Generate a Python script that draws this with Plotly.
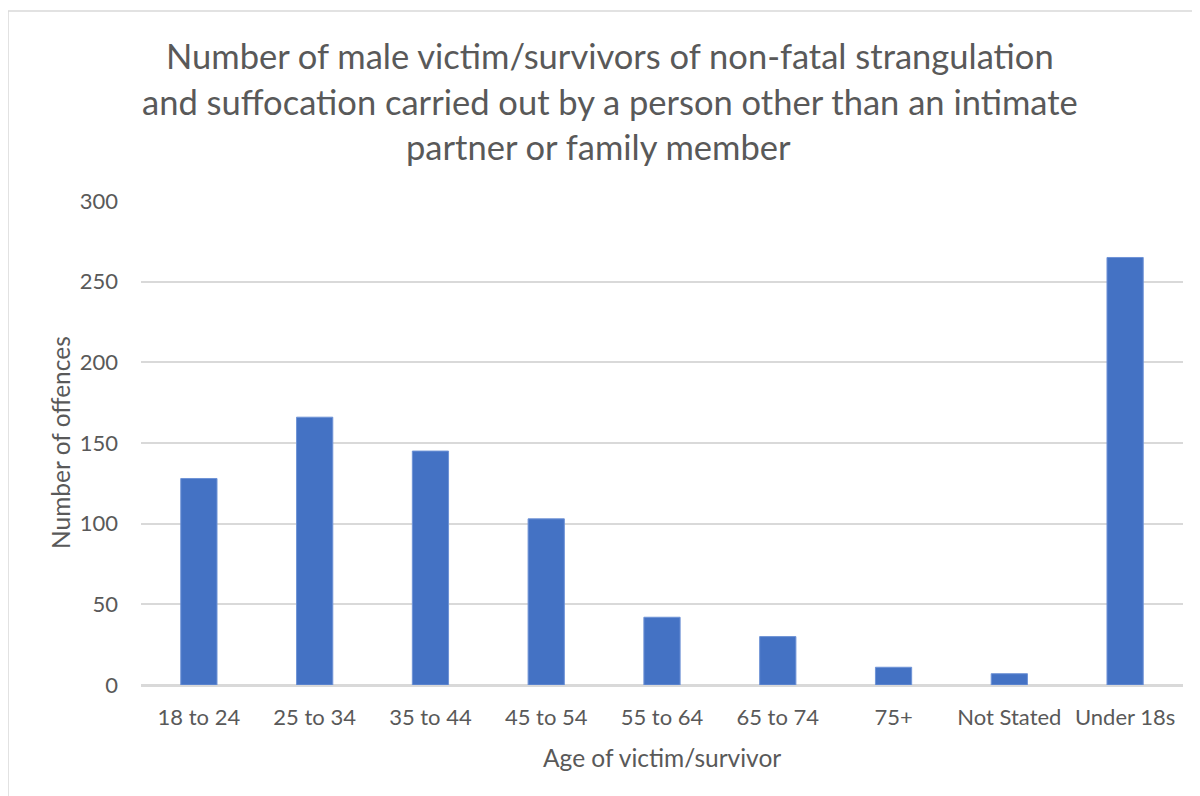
import plotly.graph_objects as go

categories = ["18 to 24", "25 to 34", "35 to 44", "45 to 54", "55 to 64",
              "65 to 74", "75+", "Not Stated", "Under 18s"]
offences = [128, 166, 145, 103, 42, 30, 11, 7, 265]
y_ticks = [0, 50, 100, 150, 200, 250, 300]

title_lines = [
    "Number of male victim/survivors of non-fatal strangulation",
    "and suffocation carried out by a person other than an intimate",
    "partner or family member",
]
x_title = "Age of victim/survivor"
y_title = "Number of offences"

# page body has an 8px margin; work in reference-pixel coordinates and shift
OFF = 8
W, H = 1200 - OFF, 796 - OFF
PL, PT, PR, PB = 141, 201, 1183, 685   # plot area in reference pixels
L, T = PL - OFF, PT - OFF
R, B = W - (PR - OFF), H - (PB - OFF)
pw, ph = W - L - R, H - T - B

def px(x):
    return (x - PL) / pw

def py(y):
    return (PB - y) / ph

TXT = "#595959"
GRID = "#D9D9D9"
FONT = "Lato"

fig = go.Figure(go.Bar(
    x=categories, y=offences,
    marker=dict(color="#4472C4", line=dict(color="#6F93D6", width=1)),
    hoverinfo="x+y",
))

annotations = []
for txt, cx, cy in zip(title_lines, [610, 610, 598], [56, 101, 146]):
    annotations.append(dict(text=txt, x=px(cx), y=py(cy), xref="paper", yref="paper",
                            xanchor="center", yanchor="middle", showarrow=False,
                            font=dict(family=FONT, size=34.5, color=TXT)))
annotations.append(dict(text=x_title, x=px(662), y=py(757), xref="paper", yref="paper",
                        xanchor="center", yanchor="middle", showarrow=False,
                        font=dict(family=FONT, size=24.5, color=TXT)))
annotations.append(dict(text=y_title, x=px(60), y=py(443), xref="paper", yref="paper",
                        xanchor="center", yanchor="middle", showarrow=False, textangle=-90,
                        font=dict(family=FONT, size=24.5, color=TXT)))

shapes = [
    dict(type="line", xref="paper", yref="paper", x0=px(8), x1=px(8), y0=py(11), y1=py(800),
         line=dict(color=GRID, width=1.5)),
    dict(type="line", xref="paper", yref="paper", x0=px(8), x1=px(1205), y0=py(11), y1=py(11),
         line=dict(color=GRID, width=1.5)),
]

fig.update_layout(
    width=W, height=H,
    margin=dict(l=L, r=R, t=T, b=B, pad=0),
    paper_bgcolor="white", plot_bgcolor="white",
    bargap=0.687,
    showlegend=False,
    annotations=annotations,
    shapes=shapes,
    font=dict(family=FONT, color=TXT),
    xaxis=dict(
        type="category", showgrid=False, showline=True, linecolor=GRID, linewidth=1.5,
        ticks="", tickfont=dict(family=FONT, size=22, color=TXT), ticklabelstandoff=12,
    ),
    yaxis=dict(
        range=[0, 300], tickvals=y_ticks, showgrid=True, gridcolor=GRID, gridwidth=1.5,
        zeroline=True, zerolinecolor=GRID, zerolinewidth=1.5, showline=False,
        ticks="", tickfont=dict(family=FONT, size=22, color=TXT), ticklabelstandoff=22,
    ),
)

fig.write_html("out.html")
